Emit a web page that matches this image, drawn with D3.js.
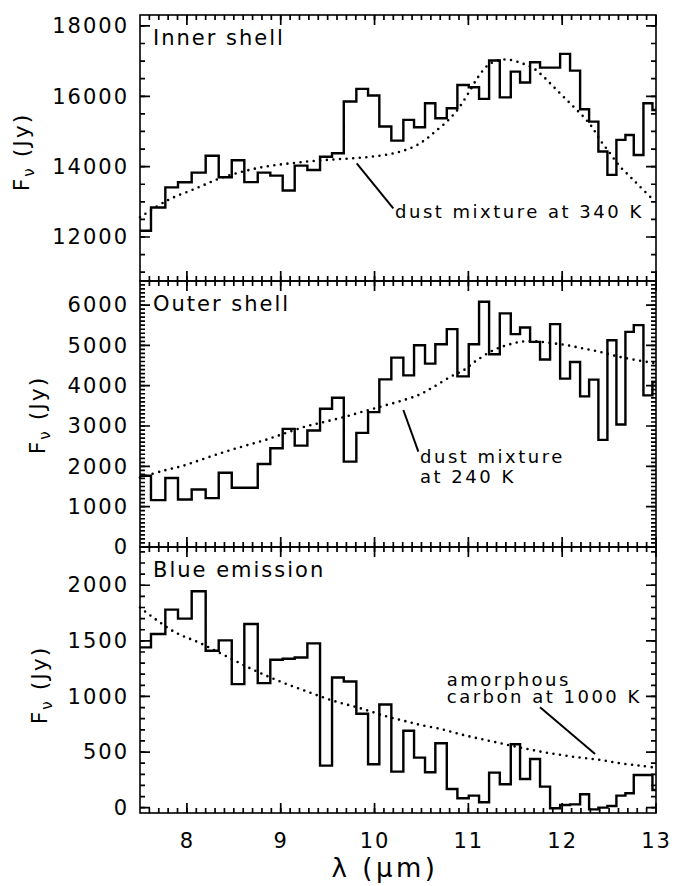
<!DOCTYPE html>
<html>
<head>
<meta charset="utf-8">
<script src="https://cdn.jsdelivr.net/npm/d3@7/dist/d3.min.js"></script>
<style>
    body { margin: 0; background: #fff; }
    svg text { font-family: "DejaVu Sans", sans-serif; fill: #000; letter-spacing: 2px; }
</style>
</head>
<body>
<svg id="chart" width="675" height="886"></svg>
<script>
// bin edges (micron), shared by the three spectra
const binEdges = [7.50, 7.617, 7.770, 7.905, 8.051, 8.200, 8.339, 8.478, 8.612, 8.755,
                  8.889, 9.021, 9.149, 9.284, 9.419, 9.547, 9.672, 9.806, 9.931, 10.051,
                  10.179, 10.307, 10.421, 10.538, 10.648, 10.770, 10.883, 11.004, 11.114, 11.221,
                  11.335, 11.452, 11.551, 11.658, 11.764, 11.871, 11.978, 12.084, 12.191, 12.287,
                  12.386, 12.482, 12.578, 12.674, 12.763, 12.866, 12.962, 13.0];

// measured flux per bin (Jy)
const innerShell = [12180, 12840, 13410, 13555, 13830, 14310, 13700, 14180, 13560, 13830,
                    13745, 13320, 14030, 13905, 14280, 14380, 15850, 16210, 16020, 15140,
                    14740, 15330, 15120, 15800, 15375, 15660, 16320, 16255, 15925, 17015,
                    15970, 16700, 16390, 16965, 16815, 16815, 17205, 16730, 15630, 15280,
                    14430, 13765, 14760, 14900, 14330, 15800, 15610];
const outerShell = [1767, 1162, 1710, 1178, 1427, 1212, 1842, 1469, 1469, 2058,
                    2447, 2930, 2514, 2888, 3428, 3702, 2116, 2830, 3344, 4157,
                    4697, 4257, 5004, 4548, 5029, 5402, 4232, 5029, 6082, 4780,
                    5793, 5278, 5444, 5086, 4648, 5527, 4174, 4589, 3734, 4150,
                    2656, 5128, 3037, 5335, 5502, 3759, 4090];
const blueEmission = [1441, 1561, 1781, 1700, 1946, 1411, 1504, 1111, 1652, 1120,
                      1330, 1339, 1351, 1477, 378, 1171, 1135, 844, 390, 928,
                      324, 691, 450, 318, 579, 168, 84, 108, 48, 315,
                      210, 570, 258, 438, 189, -5, 24, 30, 120, -15,
                      0, 15, 108, 129, 294, 294, 159];

// model curves (dotted)
const innerModelWave = [7.5, 7.80, 8.10, 8.335, 8.53, 8.744, 8.957, 9.17, 9.384, 9.597,
                        9.81, 10.023, 10.237, 10.414, 10.538, 10.645, 10.77, 10.883, 11.0, 11.107,
                        11.213, 11.338, 11.445, 11.57, 11.693, 11.8, 11.906, 12.013, 12.12, 12.226,
                        12.315, 12.404, 12.51, 12.617, 12.724, 12.83, 12.972];
const innerModelFlux = [12560, 13053, 13385, 13650, 13812, 13954, 14048, 14113, 14170, 14210,
                        14245, 14300, 14400, 14560, 14759, 14995, 15280, 15611, 16086, 16560,
                        16891, 17033, 17033, 16939, 16797, 16560, 16274, 15990, 15706, 15421,
                        15137, 14759, 14380, 14000, 13716, 13431, 13053];
const outerModelWave = [7.5, 7.748, 7.962, 8.175, 8.388, 8.601, 8.815, 9.028, 9.241, 9.454,
                        9.668, 9.881, 10.094, 10.307, 10.485, 10.627, 10.805, 10.947, 11.09, 11.267,
                        11.41, 11.551, 11.693, 11.871, 12.049, 12.226, 12.404, 12.582, 12.759, 12.972];
const outerModelFlux = [1720, 1892, 2016, 2183, 2349, 2498, 2639, 2805, 2971, 3095,
                        3219, 3360, 3500, 3640, 3784, 3967, 4216, 4381, 4630, 4879,
                        5004, 5086, 5103, 5061, 5004, 4921, 4838, 4730, 4648, 4564];
const blueModelWave = [7.5, 7.855, 8.14, 8.424, 8.708, 8.993, 9.277, 9.561, 9.845, 10.13,
                       10.343, 10.485, 10.698, 10.912, 11.125, 11.338, 11.551, 11.764, 11.978, 12.191,
                       12.404, 12.617, 12.83, 12.99];
const blueModelFlux = [1800, 1586, 1480, 1360, 1240, 1135, 1045, 961, 895, 820,
                       775, 745, 709, 661, 619, 580, 541, 505, 475, 450,
                       430, 399, 378, 360];

// axis ticks
const xTicks = [8, 9, 10, 11, 12, 13];
const innerTicks = [12000, 14000, 16000, 18000];
const outerTicks = [0, 1000, 2000, 3000, 4000, 5000, 6000];
const blueTicks = [0, 500, 1000, 1500, 2000];

const panelTitles = ["Inner shell", "Outer shell", "Blue emission"];
const noteLines = [["dust mixture at 340 K"], ["dust mixture", "at 240 K"], ["amorphous", "carbon at 1000 K"]];


const margin = {left: 140, right: 19},
      plotWidth = 675 - margin.left - margin.right,
      panelTops = [15, 281, 547],
      panelHeight = 266;

const svg = d3.select("#chart");

const x = d3.scaleLinear()
    .domain([7.5, 13])
    .range([margin.left, margin.left + plotWidth]);


function drawTicks(g, side, scale, values, size, top, bottom) {
    /**
     * Inward tick marks on one side of a panel frame, as a single path
     *
     * @param {string} side - "left", "right", "top" or "bottom"
     * @param {number} size - tick length in px
     */
    let left = x.range()[0],
        right = x.range()[1];

    let d = values.map(function (v) {
        let p = scale(v);
        if (side == "left") return "M" + left + "," + p + "h" + size;
        if (side == "right") return "M" + right + "," + p + "h" + (-size);
        if (side == "top") return "M" + p + "," + top + "v" + size;
        return "M" + p + "," + bottom + "v" + (-size);
    }).join("");

    g.append("path")
        .attr("d", d)
        .attr("fill", "none")
        .attr("stroke", "#000")
        .attr("stroke-width", 1.7);
}


function drawPanel(idx, spectrum, modelWave, modelFlux, yDomain, yMajor, yMinorStep, note) {
    /**
     * Draw one panel: histogram spectrum, dotted model, frame, ticks and labels
     *
     * @param {number} idx - panel index from the top
     * @param {array} spectrum - flux per bin
     * @param {array} modelWave, modelFlux - dotted model curve
     * @param {array} yDomain - flux range of the panel
     * @param {array} yMajor - labelled flux ticks
     * @param {number} yMinorStep - minor tick step
     * @param {object} note - callout position in data units
     */
    let top = panelTops[idx],
        bottom = top + panelHeight;

    let y = d3.scaleLinear()
        .domain(yDomain)
        .range([bottom, top]);

    let g = svg.append("g");

    // histogram
    let points = spectrum.map((v, i) => [binEdges[i], v]);
    points.push([binEdges[binEdges.length - 1], spectrum[spectrum.length - 1]]);

    let stepLine = d3.line()
        .x(function (d) { return x(d[0]); })
        .y(function (d) { return y(d[1]); })
        .curve(d3.curveStepAfter);

    g.append("path")
        .datum(points)
        .attr("fill", "none")
        .attr("stroke", "#000")
        .attr("stroke-width", 2.4)
        .attr("d", stepLine);

    // model
    let modelLine = d3.line()
        .x(function (d) { return x(d[0]); })
        .y(function (d) { return y(d[1]); })
        .curve(d3.curveCatmullRom.alpha(0.5));

    g.append("path")
        .datum(modelWave.map((w, i) => [w, modelFlux[i]]))
        .attr("fill", "none")
        .attr("stroke", "#000")
        .attr("stroke-width", 2.6)
        .attr("stroke-linecap", "round")
        .style("stroke-dasharray", "0, 6.6")
        .attr("d", modelLine);

    // frame
    g.append("rect")
        .attr("x", x.range()[0])
        .attr("y", top)
        .attr("width", plotWidth)
        .attr("height", panelHeight)
        .attr("fill", "none")
        .attr("stroke", "#000")
        .attr("stroke-width", 1.6);

    let yMinor = d3.range(Math.ceil(yDomain[0] / yMinorStep) * yMinorStep, yDomain[1], yMinorStep);
    let xMinor = d3.range(7.6, 12.95, 0.1).map(v => Math.round(v * 10) / 10);

    ["left", "right"].forEach(function (side) {
        drawTicks(g, side, y, yMinor, 5, top, bottom);
        drawTicks(g, side, y, yMajor, 10, top, bottom);
    });
    ["top", "bottom"].forEach(function (side) {
        drawTicks(g, side, x, xMinor, 5, top, bottom);
        drawTicks(g, side, x, xTicks, 10, top, bottom);
    });

    // y tick labels
    let yAxis = g.append("g")
        .attr("transform", "translate(" + x.range()[0] + ",0)")
        .call(d3.axisLeft(y)
            .tickValues(yMajor)
            .tickSize(0)
            .tickPadding(11)
            .tickFormat(d3.format("d")));
    yAxis.attr("font-family", null).attr("font-size", null);
    yAxis.select(".domain").remove();
    yAxis.selectAll("text").style("font-size", "21px");

    if (idx == 2) {
        let xAxis = g.append("g")
            .attr("transform", "translate(0," + bottom + ")")
            .call(d3.axisBottom(x)
                .tickValues(xTicks)
                .tickSize(0)
                .tickPadding(20)
                .tickFormat(d3.format("d")));
        xAxis.attr("font-family", null).attr("font-size", null);
        xAxis.select(".domain").remove();
        xAxis.selectAll("text").style("font-size", "21px");
    }

    // title
    g.append("text")
        .attr("x", x.range()[0] + 13)
        .attr("y", top + 30)
        .style("font-size", "21px")
        .text(panelTitles[idx]);

    // y label
    let ylab = g.append("text")
        .attr("transform", "translate(" + note.ylabX + "," + (top + panelHeight / 2 + note.ylabDy) + ") rotate(-90)")
        .attr("text-anchor", "middle")
        .style("font-size", "22px");
    ylab.append("tspan").text("F");
    ylab.append("tspan").attr("dy", 5).style("font-size", "15px").text("ν");
    ylab.append("tspan").attr("dy", -5).text(" (Jy)");

    // callout
    g.append("line")
        .attr("x1", x(note.line[0][0]))
        .attr("y1", y(note.line[0][1]))
        .attr("x2", x(note.line[1][0]))
        .attr("y2", y(note.line[1][1]))
        .attr("stroke", "#000")
        .attr("stroke-width", 2);

    noteLines[idx].forEach(function (t, i) {
        g.append("text")
            .attr("x", x(note.text[0]))
            .attr("y", y(note.text[1]) + i * note.lineGap)
            .style("font-size", "18px")
            .style("letter-spacing", "2.5px")
            .text(t);
    });
}


drawPanel(0, innerShell, innerModelWave, innerModelFlux, [10750, 18310], innerTicks, 500,
    {line: [[9.81, 14096], [10.20, 12817]], text: [10.219, 12532], lineGap: 0, ylabX: 28.5, ylabDy: 4});
drawPanel(1, outerShell, outerModelWave, outerModelFlux, [0, 6596], outerTicks, 100,
    {line: [[10.307, 3397], [10.467, 2363]], text: [10.485, 2090], lineGap: 20, ylabX: 45, ylabDy: 1});
drawPanel(2, blueEmission, blueModelWave, blueModelFlux, [-48, 2344], blueTicks, 100,
    {line: [[11.764, 903], [12.351, 482]], text: [10.77, 1090], lineGap: 17, ylabX: 46.5, ylabDy: 5});

svg.append("text")
    .attr("x", margin.left + plotWidth / 2 - 13)
    .attr("y", 877)
    .attr("text-anchor", "middle")
    .style("font-size", "26px")
    .style("letter-spacing", "3.5px")
    .text("λ (μm)");
</script>
</body>
</html>
